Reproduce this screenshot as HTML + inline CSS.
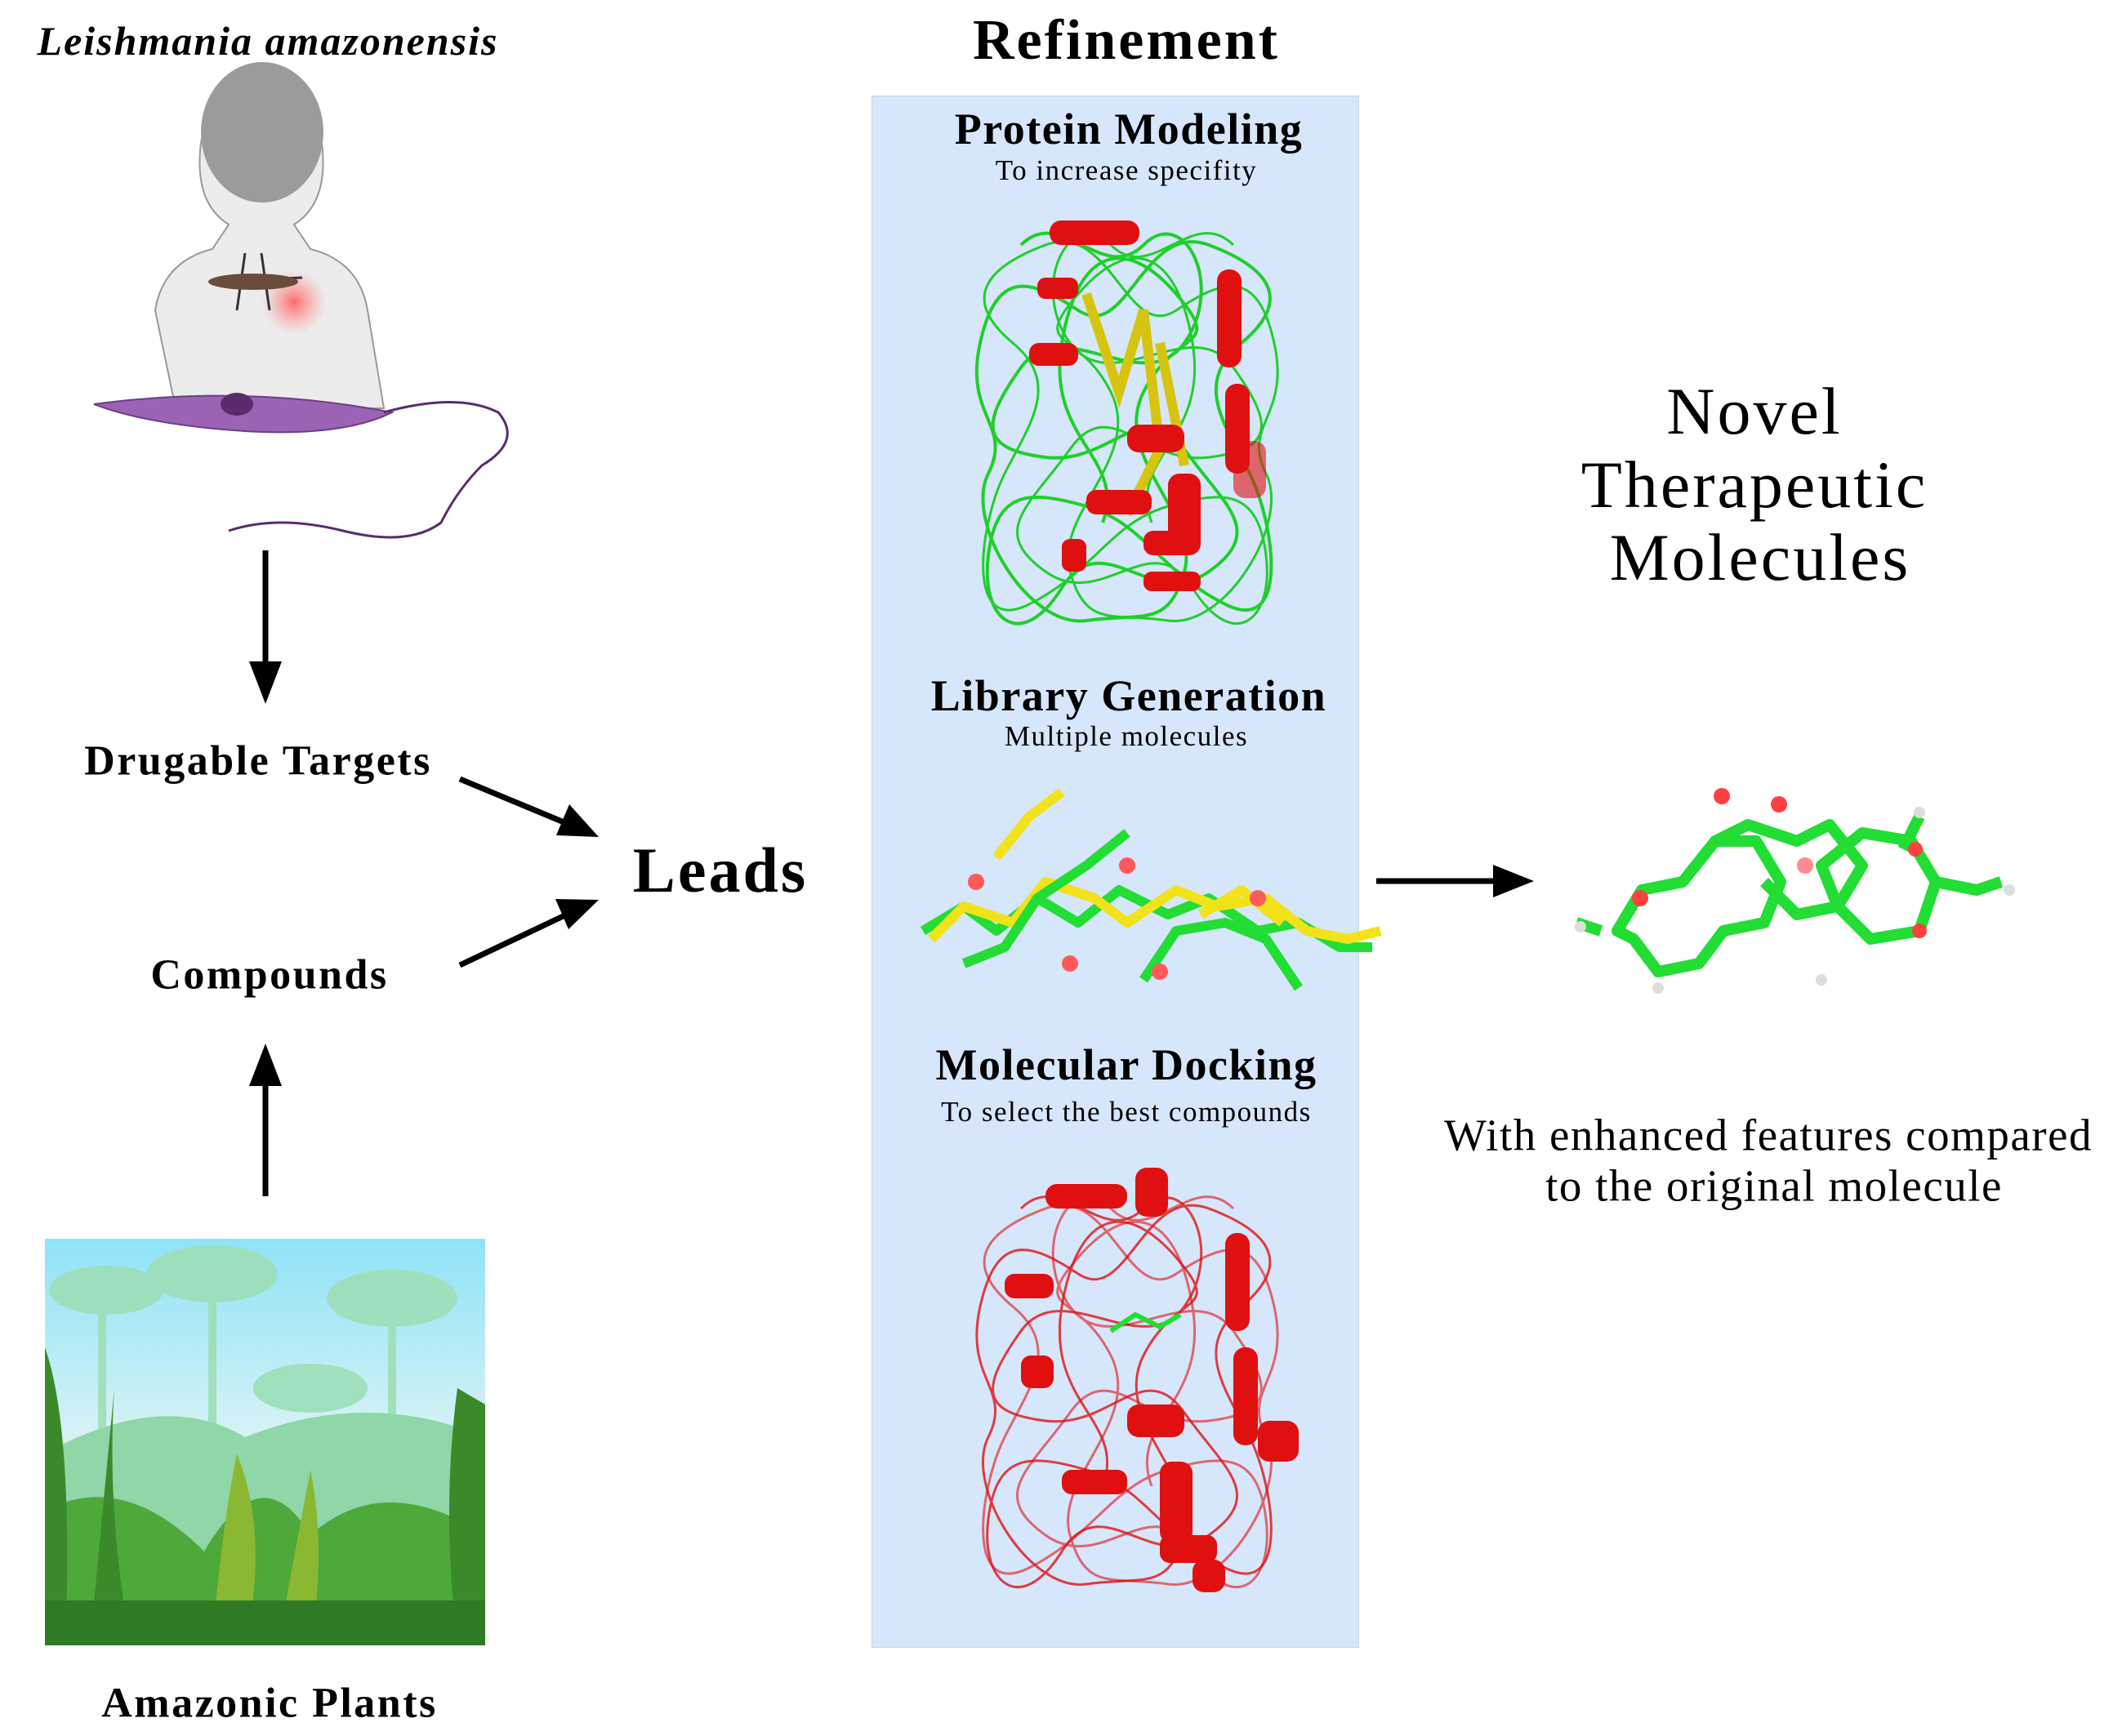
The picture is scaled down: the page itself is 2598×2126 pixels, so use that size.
<!DOCTYPE html>
<html><head><meta charset="utf-8"><style>
html,body{margin:0;padding:0;background:#fff;}
body{width:2598px;height:2126px;position:relative;overflow:hidden;font-family:"Liberation Serif",serif;color:#000;}
.t{position:absolute;transform:translate(-50%,-50%);white-space:nowrap;text-align:center;letter-spacing:1.5px;}
.b{font-weight:bold;}
</style></head><body>
<div class="t b" style="left:328px;top:50px;font-size:50px;font-style:italic;letter-spacing:2px;">Leishmania amazonensis</div>
<div class="t b" style="left:1379px;top:50px;font-size:70px;letter-spacing:3px;">Refinement</div>
<div style="position:absolute;left:1067px;top:117px;width:595px;height:1899px;background:#d6e6fb;border:1px solid #c4d6ee;"></div>
<div class="t b" style="left:1382px;top:158px;font-size:54px;">Protein Modeling</div>
<div class="t" style="left:1379px;top:209px;font-size:35px;">To increase specifity</div>
<div class="t b" style="left:1382px;top:852px;font-size:54px;">Library Generation</div>
<div class="t" style="left:1379px;top:902px;font-size:35px;">Multiple molecules</div>
<div class="t b" style="left:1379px;top:1304px;font-size:54px;">Molecular Docking</div>
<div class="t" style="left:1379px;top:1362px;font-size:35px;">To select the best compounds</div>
<div class="t b" style="left:316px;top:932px;font-size:52px;letter-spacing:2.5px;">Drugable Targets</div>
<div class="t b" style="left:330px;top:1194px;font-size:52px;letter-spacing:2.5px;">Compounds</div>
<div class="t b" style="left:330px;top:2086px;font-size:52px;letter-spacing:2.5px;">Amazonic Plants</div>
<div class="t b" style="left:882px;top:1066px;font-size:78px;letter-spacing:3px;">Leads</div>
<div class="t" style="left:2148px;top:504px;font-size:82px;letter-spacing:3px;">Novel</div>
<div class="t" style="left:2148px;top:594px;font-size:82px;letter-spacing:3px;">Therapeutic</div>
<div class="t" style="left:2155px;top:683px;font-size:82px;letter-spacing:3px;">Molecules</div>
<div class="t" style="left:2165px;top:1390px;font-size:55px;letter-spacing:1.5px;">With enhanced features compared</div>
<div class="t" style="left:2172px;top:1452px;font-size:55px;letter-spacing:1.5px;">to the original molecule</div>

<svg width="2598" height="2126" style="position:absolute;left:0;top:0;">
<defs>
<linearGradient id="sky" x1="0" y1="0" x2="0" y2="1"><stop offset="0" stop-color="#8fe3f7"/><stop offset="0.5" stop-color="#d8f3f5"/><stop offset="1" stop-color="#b8e8c8"/></linearGradient>
<radialGradient id="rd"><stop offset="0" stop-color="#ff6b6b"/><stop offset="1" stop-color="#ff9a9a" stop-opacity="0"/></radialGradient>
<path id="coil" d="M1250,300 C1300,250 1350,350 1400,300 S1500,350 1450,420 S1300,380 1250,450 S1200,550 1280,560 S1400,480 1450,550 S1550,650 1480,700 S1350,640 1300,720 S1200,760 1210,680 S1260,600 1330,620 S1420,700 1500,740 S1560,640 1530,580 S1460,470 1520,420 S1560,330 1480,300 S1380,420 1320,380 S1220,330 1200,420 S1240,520 1210,580 S1260,770 1330,760 S1430,770 1450,700 S1360,560 1400,480 S1500,430 1440,360 S1320,300 1300,420 S1380,560 1350,640"/>
</defs>
<g stroke="#000" stroke-width="7" fill="#000">
<line x1="325" y1="674" x2="325" y2="820"/><polygon points="305,810 345,810 325,862" stroke="none"/>
<line x1="325" y1="1465" x2="325" y2="1320"/><polygon points="305,1330 345,1330 325,1278" stroke="none"/>
<line x1="563" y1="954" x2="700" y2="1011"/><polygon points="733,1025 681,1023 697,985" stroke="none"/>
<line x1="563" y1="1182" x2="700" y2="1117"/><polygon points="733,1102 696,1138 680,1101" stroke="none"/>
<line x1="1685" y1="1079" x2="1840" y2="1079"/><polygon points="1878,1079 1828,1059 1828,1099" stroke="none"/>
</g>
<g>
<path d="M215,500 L190,380 Q200,320 260,305 L280,275 Q240,250 245,185 Q250,115 320,110 Q390,115 395,185 Q400,250 360,275 L380,305 Q440,320 450,380 L470,500 Z" fill="#ececec" stroke="#999" stroke-width="2"/>
<ellipse cx="321" cy="162" rx="75" ry="86" fill="#9b9b9b"/>
<circle cx="360" cy="370" r="40" fill="url(#rd)"/>
<g stroke="#333" stroke-width="3" fill="none"><line x1="260" y1="345" x2="370" y2="340"/><line x1="300" y1="310" x2="290" y2="380"/><line x1="320" y1="310" x2="330" y2="380"/></g>
<ellipse cx="310" cy="345" rx="55" ry="10" fill="#6b4b3b"/>
<path d="M115,495 Q300,470 480,505 Q420,535 300,528 Q180,520 115,495Z" fill="#9b63b3" stroke="#6d3d85" stroke-width="2"/>
<ellipse cx="290" cy="495" rx="20" ry="14" fill="#5a2c6d"/>
<path d="M470,505 Q560,480 610,505 Q640,540 590,570 Q560,600 540,640 Q500,670 420,650 Q340,630 280,650" fill="none" stroke="#5a2c6d" stroke-width="3"/>
</g>
<g>
<rect x="55" y="1517" width="539" height="498" fill="url(#sky)"/>
<g fill="#9ddfb6" opacity="0.9">
<ellipse cx="130" cy="1580" rx="70" ry="30"/><ellipse cx="260" cy="1560" rx="80" ry="35"/><ellipse cx="480" cy="1590" rx="80" ry="35"/><ellipse cx="380" cy="1700" rx="70" ry="30"/>
<rect x="120" y="1580" width="10" height="300"/><rect x="255" y="1560" width="10" height="320"/><rect x="475" y="1590" width="10" height="300"/>
</g>
<path d="M55,1780 Q200,1700 300,1760 Q450,1700 594,1760 L594,2015 L55,2015Z" fill="#8fd6a8"/>
<path d="M55,1850 Q150,1800 250,1900 Q320,1780 380,1880 Q470,1800 594,1880 L594,2015 L55,2015Z" fill="#4ea83a"/>
<path d="M55,1650 Q90,1750 80,2015 L55,2015Z M140,1700 Q130,1850 160,2015 L110,2015Z M560,1700 Q540,1850 560,2015 L594,2015 L594,1720Z" fill="#3b8a2a"/>
<path d="M290,1780 Q330,1880 300,2015 L260,2015 Q270,1880 290,1780Z M380,1800 Q400,1900 380,2015 L340,2015Z" fill="#8ab832"/>
<rect x="55" y="1960" width="539" height="55" fill="#2f7a25"/>
</g>
<use href="#coil" fill="none" stroke="#1fcf2a" stroke-width="4"/>
<use href="#coil" fill="none" stroke="#1fcf2a" stroke-width="3" transform="translate(2760,0) scale(-1,1)"/>
<path d="M1330,360 l40,120 l30,-100 l20,170 l-40,80 M1420,420 l30,150" fill="none" stroke="#d6c40f" stroke-width="12"/>
<g fill="#e01010">
<rect x="1285" y="270" width="110" height="30" rx="14"/><rect x="1490" y="330" width="30" height="120" rx="14"/><rect x="1500" y="470" width="30" height="110" rx="14"/>
<rect x="1260" y="420" width="60" height="28" rx="12"/><rect x="1380" y="520" width="70" height="34" rx="14"/><rect x="1430" y="580" width="40" height="100" rx="14"/>
<rect x="1330" y="600" width="80" height="30" rx="12"/><rect x="1270" y="340" width="50" height="26" rx="10"/><rect x="1400" y="650" width="60" height="30" rx="12"/><rect x="1300" y="660" width="30" height="40" rx="10"/>
<rect x="1510" y="540" width="40" height="70" rx="14" opacity="0.6"/><rect x="1400" y="700" width="70" height="24" rx="10"/>
</g>
<g fill="none" stroke-width="12" stroke-linejoin="round">
<path d="M1130,1140 l50,-30 l40,30 l50,-40 l50,30 l50,-40 l60,30 l50,-20 l60,40 l50,-10 l50,30 l40,0" stroke="#22dd33"/>
<path d="M1140,1150 l40,-40 l60,20 l40,-50 l60,20 l40,30 l60,-40 l50,20 l60,-10 l50,40 l50,10 l40,-10" stroke="#f2e21a"/>
<path d="M1180,1180 l50,-20 l40,-60 l60,-40 l50,-40 M1400,1200 l40,-60 l60,-10 l50,20 l40,60" stroke="#22dd33"/>
<path d="M1220,1050 l40,-50 l40,-30 M1470,1120 l50,-30 l50,40" stroke="#f2e21a"/>
</g>
<g fill="#ff5a5a"><circle cx="1310" cy="1180" r="10"/><circle cx="1420" cy="1190" r="10"/><circle cx="1540" cy="1100" r="10"/><circle cx="1380" cy="1060" r="10"/><circle cx="1195" cy="1080" r="10"/></g>
<g transform="translate(0,1180)">
<use href="#coil" fill="none" stroke="#e01010" stroke-width="3" opacity="0.8"/>
<use href="#coil" fill="none" stroke="#e01010" stroke-width="3" opacity="0.6" transform="translate(2760,0) scale(-1,1)"/>
</g>
<g fill="#e01010">
<rect x="1280" y="1450" width="100" height="30" rx="14"/><rect x="1390" y="1430" width="40" height="60" rx="14"/><rect x="1500" y="1510" width="30" height="120" rx="14"/>
<rect x="1510" y="1650" width="30" height="120" rx="14"/><rect x="1230" y="1560" width="60" height="30" rx="12"/><rect x="1380" y="1720" width="70" height="40" rx="14"/>
<rect x="1420" y="1790" width="40" height="100" rx="14"/><rect x="1300" y="1800" width="80" height="30" rx="12"/><rect x="1420" y="1880" width="70" height="34" rx="12"/>
<rect x="1540" y="1740" width="50" height="50" rx="14"/><rect x="1250" y="1660" width="40" height="40" rx="12"/><rect x="1460" y="1910" width="40" height="40" rx="14"/>
</g>
<path d="M1360,1630 l30,-20 l30,15 l25,-15" stroke="#22dd33" stroke-width="6" fill="none"/>
<g fill="none" stroke="#22dd33" stroke-width="14" stroke-linejoin="round">
<path d="M1980,1140 l30,-50 l50,-10 l40,-50 l50,0 l30,50 l-20,50 l-50,10 l-30,40 l-50,10 l-30,-40 Z"/>
<path d="M2100,1030 l40,-20 l60,20 l40,-20 l40,50 l-30,50 l-50,10 l-40,-40"/>
<path d="M2230,1060 l50,-40 l60,10 l30,50 l-20,60 l-60,10 l-40,-40 Z"/>
<path d="M2370,1080 l50,10 l30,-10 M2330,1040 l20,-40 M1960,1140 l-30,-10"/>
</g>
<g fill="#ff4040"><circle cx="2108" cy="975" r="10"/><circle cx="2178" cy="985" r="10"/><circle cx="2008" cy="1100" r="10"/><circle cx="2210" cy="1060" r="10" opacity="0.6"/><circle cx="2350" cy="1140" r="9"/><circle cx="2345" cy="1040" r="9"/></g>
<g fill="#ddd"><circle cx="1935" cy="1135" r="7"/><circle cx="2030" cy="1210" r="7"/><circle cx="2460" cy="1090" r="7"/><circle cx="2350" cy="995" r="7"/><circle cx="2230" cy="1200" r="7"/></g>
</svg>
</body></html>
